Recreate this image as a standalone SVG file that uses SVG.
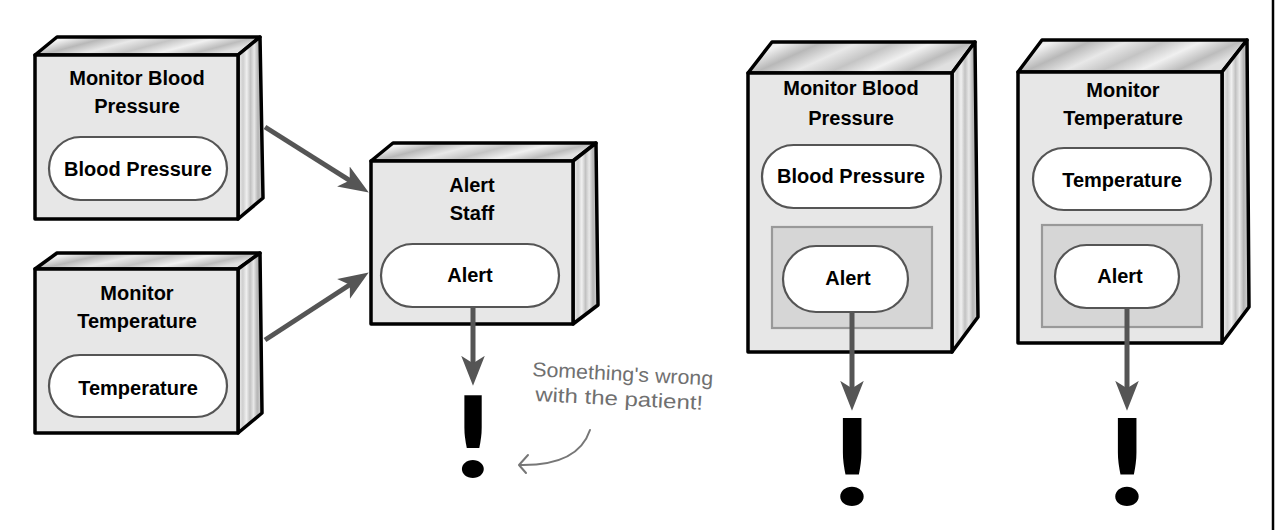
<svg xmlns="http://www.w3.org/2000/svg" width="1282" height="530" viewBox="0 0 1282 530">
<style>
.front{fill:#e7e7e7;stroke:#000;stroke-width:3.5;stroke-linejoin:round}
.top{fill:url(#gTop);stroke:#000;stroke-width:3.5;stroke-linejoin:round}
.side{fill:url(#gSide);stroke:#000;stroke-width:3.5;stroke-linejoin:round}
.pill{fill:#fff;stroke:#555;stroke-width:2.2}
.inner{fill:#d6d6d6;stroke:#999;stroke-width:2.2}
.title,.label{font-family:"Liberation Sans",Arial,sans-serif;font-weight:bold;font-size:20px;fill:#000;text-anchor:middle}
.conn{stroke:#555;stroke-width:5;fill:none}
.bang{font-family:Lato,"Open Sans","Liberation Sans",sans-serif;font-weight:900;fill:#000;text-anchor:middle}
.note{font-family:"Liberation Sans",Arial,sans-serif;font-size:20px;fill:#707070}
</style>
<defs>
<linearGradient id="gTop" x1="0" y1="0" x2="1" y2="0.3">
<stop offset="0" stop-color="#c8c8c8"/>
<stop offset="0.15" stop-color="#f2f2f2"/>
<stop offset="0.3" stop-color="#b8b8b8"/>
<stop offset="0.45" stop-color="#e8e8e8"/>
<stop offset="0.6" stop-color="#c4c4c4"/>
<stop offset="0.75" stop-color="#f0f0f0"/>
<stop offset="0.9" stop-color="#bcbcbc"/>
<stop offset="1" stop-color="#e0e0e0"/>
</linearGradient>
<linearGradient id="gSide" x1="0" y1="0" x2="1" y2="0">
<stop offset="0" stop-color="#f4f4f4"/>
<stop offset="0.2" stop-color="#cfcfcf"/>
<stop offset="0.35" stop-color="#f0f0f0"/>
<stop offset="0.5" stop-color="#c2c2c2"/>
<stop offset="0.65" stop-color="#e8e8e8"/>
<stop offset="0.8" stop-color="#b5b5b5"/>
<stop offset="1" stop-color="#d8d8d8"/>
</linearGradient>
<marker id="ah" markerUnits="userSpaceOnUse" markerWidth="30" markerHeight="24" viewBox="0 0 28 22" refX="16" refY="11" orient="auto">
<path d="M0,0 L28,11 L0,22 L7,11 Z" fill="#555"/>
</marker>
</defs>

<line x1="1273" y1="0" x2="1273" y2="530" stroke="#000" stroke-width="2.5"/>

<g id="node-monitor-bp-1">
<polygon class="top" points="35,55 57,37 260,37 238,55"/>
<polygon class="side" points="238,55 260,37 263,198 238,219"/>
<rect class="front" x="35" y="55" width="203" height="164"/>
<text class="title" x="137" y="85">Monitor Blood</text>
<text class="title" x="137" y="113">Pressure</text>
<rect class="pill" x="49" y="137" width="178" height="63" rx="31.5"/>
<text class="label" x="138" y="176">Blood Pressure</text>
</g>

<g id="node-monitor-temp-1">
<polygon class="top" points="35,269 57,253 260,253 238,269"/>
<polygon class="side" points="238,269 260,253 262,413 238,433"/>
<rect class="front" x="35" y="269" width="203" height="164"/>
<text class="title" x="137" y="300">Monitor</text>
<text class="title" x="137" y="328">Temperature</text>
<rect class="pill" x="49" y="355" width="178" height="62" rx="31"/>
<text class="label" x="138" y="395">Temperature</text>
</g>

<g id="node-alert-staff">
<polygon class="top" points="371,161 393,143 596,143 573,161"/>
<polygon class="side" points="573,161 596,143 598,305 573,324"/>
<rect class="front" x="371" y="161" width="202" height="163"/>
<text class="title" x="472" y="192">Alert</text>
<text class="title" x="472" y="220">Staff</text>
<rect class="pill" x="381" y="244" width="178" height="63" rx="31.5"/>
<text class="label" x="470" y="282">Alert</text>
</g>

<g id="node-monitor-bp-2">
<polygon class="top" points="748,73 772,42 975,42 952,73"/>
<polygon class="side" points="952,73 975,42 978,317 952,352"/>
<rect class="front" x="748" y="73" width="204" height="279"/>
<text class="title" x="851" y="95">Monitor Blood</text>
<text class="title" x="851" y="125">Pressure</text>
<rect class="pill" x="762" y="145" width="179" height="63" rx="31.5"/>
<text class="label" x="851" y="183">Blood Pressure</text>
<rect class="inner" x="772" y="227" width="160" height="101"/>
<rect class="pill" x="783" y="246" width="125" height="66" rx="33"/>
<text class="label" x="848" y="285">Alert</text>
</g>

<g id="node-monitor-temp-2">
<polygon class="top" points="1018,72 1042,40 1247,40 1222,72"/>
<polygon class="side" points="1222,72 1247,40 1249,307 1222,343"/>
<rect class="front" x="1018" y="72" width="204" height="271"/>
<text class="title" x="1123" y="97">Monitor</text>
<text class="title" x="1123" y="125">Temperature</text>
<rect class="pill" x="1033" y="148" width="178" height="62" rx="31"/>
<text class="label" x="1122" y="187">Temperature</text>
<rect class="inner" x="1042" y="225" width="160" height="102"/>
<rect class="pill" x="1055" y="245" width="124" height="63" rx="31.5"/>
<text class="label" x="1120" y="283">Alert</text>
</g>

<g id="connectors">
<line class="conn" x1="265" y1="127" x2="357.9" y2="185.6" marker-end="url(#ah)"/>
<line class="conn" x1="265" y1="340" x2="357.9" y2="279.5" marker-end="url(#ah)"/>
<line class="conn" x1="473" y1="307" x2="473" y2="373" marker-end="url(#ah)"/>
<line class="conn" x1="852" y1="312" x2="852" y2="398" marker-end="url(#ah)"/>
<line class="conn" x1="1127" y1="308" x2="1127" y2="398" marker-end="url(#ah)"/>
<path d="M590,430 Q578,466 520,465" stroke="#777" stroke-width="2" fill="none" stroke-linecap="round"/>
<path d="M528,455 L519,465 L526,473" stroke="#777" stroke-width="2" fill="none" stroke-linecap="round" stroke-linejoin="round"/>
</g>

<g id="alerts">
<text class="bang" x="0" y="0" font-size="112" transform="translate(473 477) scale(1.2 1)">!</text>
<text class="bang" x="0" y="0" font-size="120" transform="translate(852 505) scale(1.2 1)">!</text>
<text class="bang" x="0" y="0" font-size="120" transform="translate(1127 505) scale(1.2 1)">!</text>
</g>

<g id="annotation">
<text class="note" x="532" y="376" transform="rotate(3 532 376)" textLength="181" lengthAdjust="spacingAndGlyphs">Something's wrong</text>
<text class="note" x="535" y="401" transform="rotate(3 535 401)" textLength="168" lengthAdjust="spacingAndGlyphs">with the patient!</text>
</g>
</svg>
